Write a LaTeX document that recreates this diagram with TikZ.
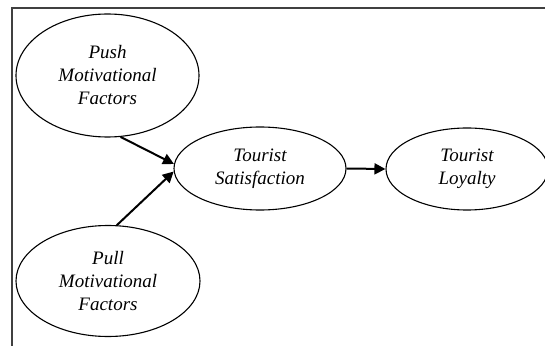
\documentclass[tikz,border=0pt]{standalone}
\usepackage{fontspec}
\setmainfont{Liberation Serif}
\usetikzlibrary{shapes.geometric,arrows.meta}
\begin{document}
\begin{tikzpicture}[x=1pt,y=-1pt,
  oval/.style={draw, line width=1.1pt, ellipse, inner sep=0pt, align=center,
    font=\fontsize{19}{23}\selectfont\itshape},
  link/.style={line width=2pt, -{Triangle[length=11pt,width=11pt]}}]
\useasboundingbox (0,0) rectangle (545,347);
\coordinate (fa) at (545,8);
\coordinate (fb) at (12,8);
\coordinate (fc) at (12,346);
\draw[line width=1.4pt, black!75] (fa) -- (fb) -- (fc);
\node[oval, minimum width=183pt, minimum height=123pt] (push) at (107.5,75.5) {Push\\Motivational\\Factors};
\node[oval, minimum width=184pt, minimum height=111pt] (pull) at (108,281) {Pull\\Motivational\\Factors};
\node[oval, minimum width=172pt, minimum height=83pt] (sat) at (260,168.5) {Tourist\\Satisfaction};
\node[oval, minimum width=162pt, minimum height=82pt] (loy) at (467,169) {Tourist\\Loyalty};
\draw[link] (push.-78) -- (sat.177.5);
\draw[link] (pull.81) -- (sat.182.5);
\draw[link] (sat.east) -- (loy.west);
\end{tikzpicture}
\end{document}
